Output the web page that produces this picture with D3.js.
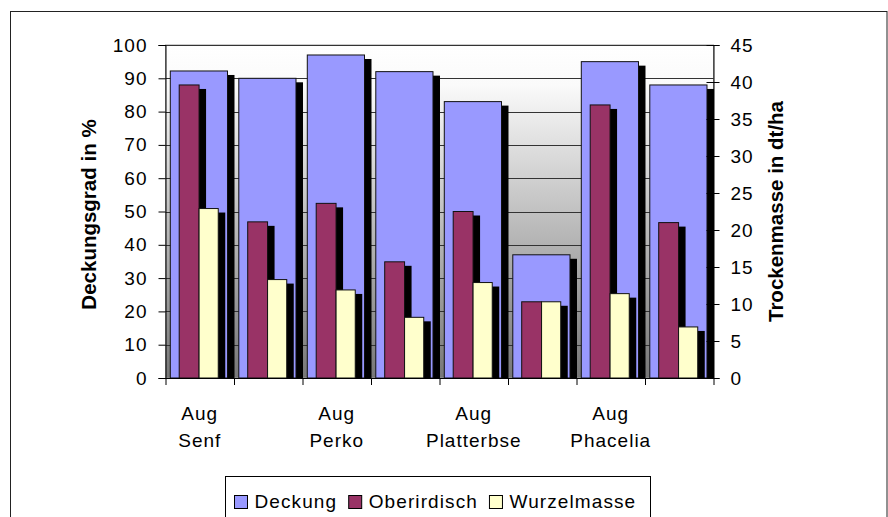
<!DOCTYPE html>
<html>
<head>
<meta charset="utf-8">
<script src="https://cdn.jsdelivr.net/npm/d3@7"></script>
<style>
  body { margin: 0; background: #fff; }
  svg { display: block; font-family: "Liberation Sans", Arial, sans-serif; }
</style>
</head>
<body>
<div id="vis"></div>
<script>
// chart data
const categories = ["Aug\nSenf", "", "Aug\nPerko", "", "Aug\nPlatterbse", "", "Aug\nPhacelia", ""];
const deckung = [92.2, 90, 97, 92, 83, 37, 95, 88];          // left axis, %
const oberirdisch = [39.6, 21.1, 23.6, 15.7, 22.5, 10.3, 36.9, 21.0]; // right axis, dt/ha
const wurzelmasse = [22.9, 13.3, 11.9, 8.2, 12.9, 10.3, 11.4, 6.9];  // right axis, dt/ha
const leftTicks = [0, 10, 20, 30, 40, 50, 60, 70, 80, 90, 100];
const rightTicks = [0, 5, 10, 15, 20, 25, 30, 35, 40, 45];
const seriesNames = ["Deckung", "Oberirdisch", "Wurzelmasse"];
const seriesColors = ["#9999FF", "#993366", "#FFFFCC"];

// frame
const FRAME_WIDTH = 888;
const FRAME_HEIGHT = 517;
const PLOT = {left: 165.5, right: 713.5, top: 45, bottom: 378};

const svg = d3.select("#vis")
  .append("svg")
    .attr("width", FRAME_WIDTH)
    .attr("height", FRAME_HEIGHT);

// outer chart border
svg.append("rect")
  .attr("x", 10.5).attr("y", 11.5)
  .attr("width", 876.5).attr("height", 540)
  .attr("fill", "#fff").attr("stroke", "#222");

// scales
const X = d3.scaleBand()
  .domain(d3.range(categories.length))
  .range([PLOT.left, PLOT.right])
  .paddingInner(0).paddingOuter(0);
const X_EDGE = d3.scaleLinear()
  .domain([0, categories.length])
  .range([PLOT.left, PLOT.right]);
const Y_LEFT = d3.scaleLinear().domain([0, 100]).range([PLOT.bottom, PLOT.top]);
const Y_RIGHT = d3.scaleLinear().domain([0, 45]).range([PLOT.bottom, PLOT.top]);

// plot area background gradient
const grad = svg.append("defs").append("linearGradient")
  .attr("id", "bg").attr("x1", 0).attr("y1", 0).attr("x2", 0).attr("y2", 1);
grad.append("stop").attr("offset", "0").attr("stop-color", "#ffffff");
grad.append("stop").attr("offset", "0.12").attr("stop-color", "#fafafa");
grad.append("stop").attr("offset", "1").attr("stop-color", "#777777");

svg.append("rect")
  .attr("x", PLOT.left).attr("y", PLOT.top)
  .attr("width", PLOT.right - PLOT.left).attr("height", PLOT.bottom - PLOT.top)
  .attr("fill", "url(#bg)")
  .attr("stroke", "#999");

// gridlines
svg.append("g")
  .selectAll("line")
  .data(leftTicks.slice(1))
  .enter()
  .append("line")
    .attr("x1", PLOT.left).attr("x2", PLOT.right)
    .attr("y1", d => Math.round(Y_LEFT(d)) + 0.5)
    .attr("y2", d => Math.round(Y_LEFT(d)) + 0.5)
    .attr("stroke", "#333");

// bars: each bar gets a black shadow offset right/down
const SH_X = 7, SH_Y = 4;
const bw = X.bandwidth();

function drawBars(values, scale, x0, x1, color) {
  const g = svg.append("g");
  g.selectAll(".shadow")
    .data(values)
    .enter()
    .append("rect")
      .attr("class", "shadow")
      .attr("x", (d, i) => X(i) + x0 + SH_X)
      .attr("y", d => scale(d) + SH_Y)
      .attr("width", x1 - x0)
      .attr("height", d => PLOT.bottom - scale(d) - SH_Y)
      .attr("fill", "#000");
  g.selectAll(".bar")
    .data(values)
    .enter()
    .append("rect")
      .attr("class", "bar")
      .attr("x", (d, i) => X(i) + x0)
      .attr("y", d => scale(d))
      .attr("width", x1 - x0)
      .attr("height", d => PLOT.bottom - scale(d))
      .attr("fill", color)
      .attr("stroke", "#111")
      .attr("stroke-width", 1);
}

drawBars(deckung, Y_LEFT, bw * 0.07, bw * 0.905, seriesColors[0]);
drawBars(oberirdisch, Y_RIGHT, bw * 0.2, bw * 0.49, seriesColors[1]);
drawBars(wurzelmasse, Y_RIGHT, bw * 0.49, bw * 0.77, seriesColors[2]);

// axes
const leftAxis = svg.append("g")
  .attr("transform", "translate(" + PLOT.left + ",0)")
  .call(d3.axisLeft(Y_LEFT).tickValues(leftTicks).tickSize(7).tickPadding(11));

const rightAxis = svg.append("g")
  .attr("transform", "translate(" + PLOT.right + ",0)")
  .call(d3.axisRight(Y_RIGHT).tickValues(rightTicks).tickSize(6).tickPadding(11));
rightAxis.selectAll(".tick line").attr("x1", -7);

const bottomAxis = svg.append("g")
  .attr("transform", "translate(0," + PLOT.bottom + ")")
  .call(d3.axisBottom(X_EDGE).tickValues(d3.range(categories.length + 1)).tickSize(7).tickFormat(""));

[leftAxis, rightAxis, bottomAxis].forEach(a => {
  a.select(".domain").attr("stroke", "#000");
  a.selectAll(".tick line").attr("stroke", "#000");
  a.selectAll("text")
    .attr("font-size", "19px")
    .attr("letter-spacing", "1px")
    .attr("font-family", "Liberation Sans, Arial, sans-serif")
    .attr("fill", "#000");
});
bottomAxis.select(".domain").attr("d", "M" + PLOT.left + ",0.5H" + PLOT.right);

// category labels (two lines, only on every other group)
const catLabels = svg.append("g")
  .selectAll("text")
  .data(categories)
  .enter()
  .append("text")
    .attr("text-anchor", "middle")
    .attr("font-size", "19px")
    .attr("letter-spacing", "1px")
    .attr("fill", "#000");
catLabels.each(function (d, i) {
  const lines = d.split("\n");
  d3.select(this).selectAll("tspan")
    .data(d ? lines : [])
    .enter()
    .append("tspan")
      .attr("x", X(i) + bw / 2)
      .attr("y", (t, j) => PLOT.bottom + 42 + j * 27)
      .text(t => t);
});

// axis titles
svg.append("text")
  .attr("transform", "translate(96," + ((PLOT.top + PLOT.bottom) / 2 + 3) + ") rotate(-90)")
  .attr("text-anchor", "middle")
  .attr("font-size", "20.5px")
  .attr("font-weight", "bold")
  .text("Deckungsgrad in %");

svg.append("text")
  .attr("transform", "translate(783," + ((PLOT.top + PLOT.bottom) / 2 - 0) + ") rotate(-90)")
  .attr("text-anchor", "middle")
  .attr("font-size", "20.5px")
  .attr("font-weight", "bold")
  .text("Trockenmasse in dt/ha");

// legend
const legend = svg.append("g");
legend.append("rect")
  .attr("x", 225.5).attr("y", 476.5)
  .attr("width", 425).attr("height", 60)
  .attr("fill", "#fff").attr("stroke", "#000");

let cursor = 234;
seriesNames.forEach((name, i) => {
  legend.append("rect")
    .attr("x", cursor + 0.5).attr("y", 495.5)
    .attr("width", 13).attr("height", 13)
    .attr("fill", seriesColors[i]).attr("stroke", "#000");
  const t = legend.append("text")
    .attr("x", cursor + 20.5).attr("y", 508)
    .attr("font-size", "19px")
    .attr("letter-spacing", "1.1px")
    .text(name);
  cursor = cursor + 20.5 + t.node().getComputedTextLength() + 11;
});
</script>
</body>
</html>
